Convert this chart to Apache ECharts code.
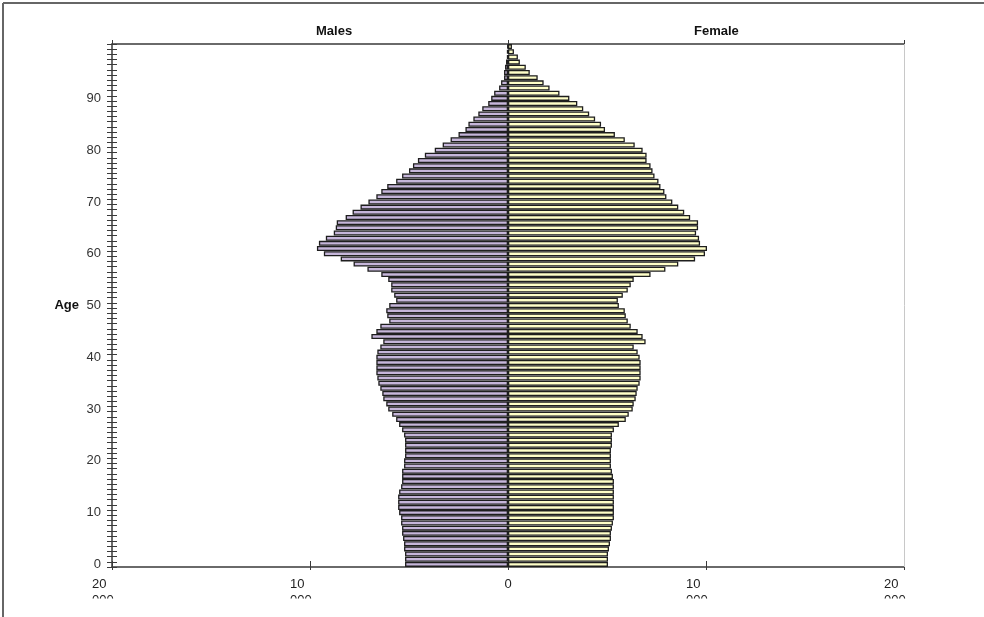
<!DOCTYPE html>
<html>
<head>
<meta charset="utf-8">
<script src="https://cdn.jsdelivr.net/npm/echarts@6/dist/echarts.min.js"></script>
<style>
html,body{margin:0;padding:0;background:#fff;}
#chart{width:984px;height:617px;}
</style>
</head>
<body>
<div id="chart"></div>
<script>
// Ages 0..100 (category axis, bottom to top)
const ages = Array.from({length: 101}, (_, i) => String(i));
const ageTickLabels = ['0','10','20','30','40','50','60','70','80','90'];
// Population in thousands, index = age
const males = [
  5.2,5.2,5.2,5.25,5.25,5.3,5.35,5.35,5.4,5.4,
  5.5,5.55,5.55,5.55,5.5,5.4,5.35,5.35,5.35,5.25,
  5.25,5.2,5.2,5.2,5.2,5.25,5.35,5.5,5.65,5.85,
  6.05,6.15,6.3,6.35,6.45,6.55,6.6,6.65,6.65,6.65,
  6.65,6.6,6.45,6.3,6.9,6.65,6.45,6.0,6.1,6.15,
  6.0,5.65,5.75,5.9,5.9,6.05,6.4,7.1,7.8,8.45,
  9.3,9.65,9.55,9.2,8.8,8.7,8.65,8.2,7.85,7.45,
  7.05,6.65,6.4,6.1,5.65,5.35,5.0,4.8,4.55,4.2,
  3.7,3.3,2.9,2.5,2.15,2.0,1.75,1.5,1.3,1.0,
  0.85,0.7,0.45,0.35,0.2,0.2,0.15,0.1,0.05,0.05,0.03
];
const females = [
  5.05,5.05,5.05,5.1,5.15,5.2,5.2,5.25,5.3,5.35,
  5.35,5.35,5.35,5.35,5.35,5.35,5.35,5.3,5.25,5.2,
  5.2,5.2,5.2,5.25,5.25,5.25,5.35,5.6,5.95,6.1,
  6.3,6.35,6.45,6.5,6.55,6.65,6.7,6.7,6.7,6.7,
  6.65,6.55,6.35,6.95,6.8,6.55,6.2,6.05,5.95,5.9,
  5.6,5.55,5.8,6.05,6.2,6.35,7.2,7.95,8.6,9.45,
  9.95,10.05,9.7,9.65,9.5,9.6,9.6,9.2,8.9,8.6,
  8.3,8.0,7.9,7.7,7.6,7.4,7.3,7.2,7.0,7.0,
  6.8,6.4,5.9,5.4,4.9,4.7,4.4,4.1,3.8,3.5,
  3.1,2.6,2.1,1.8,1.5,1.1,0.9,0.6,0.5,0.3,0.2
];
const xTickLabels = {'-20':'20 000','-10':'10 000','0':'0','10':'10 000','20':'20 000'};
const seriesNames = ['Males','Female'];

const chart = echarts.init(document.getElementById('chart'), null, {renderer:'canvas'});
const font = 'Arial, "Liberation Sans", Helvetica, sans-serif';
const axisColor = '#3a3a3a';

const option = {
  animation: false,
  backgroundColor: '#fff',
  grid: {left: 112, right: 80, top: 44, bottom: 50, containLabel: false},
  xAxis: [
    {
      type: 'value', position: 'bottom', min: -20, max: 20, interval: 10,
      axisLine: {show: true, onZero: false, lineStyle: {color: axisColor, width: 1.5}},
      axisTick: {show: true, inside: false, length: 3, lineStyle: {color: axisColor, width: 1}},
      splitLine: {show: false},
      axisLabel: {
        margin: 9, color: '#222', fontFamily: font, fontSize: 13,
        formatter: function (v) {
          const t = xTickLabels[String(v)];
          if (t === '0') return '{c|0}';
          const parts = t.split(' ');
          return '{l|' + parts[0] + '}\n{l|' + parts[1] + '}';
        },
        rich: {
          l: {width: 40, align: 'left', fontSize: 13, lineHeight: 16, fontFamily: font, color: '#222'},
          c: {align: 'center', fontSize: 13, lineHeight: 16, fontFamily: font, color: '#222'}
        }
      }
    },
    {
      type: 'value', position: 'bottom', min: -20, max: 20, interval: 10,
      axisLine: {show: false, onZero: false},
      axisTick: {show: true, inside: true, length: 6, lineStyle: {color: axisColor, width: 1}},
      axisLabel: {show: false}, splitLine: {show: false}
    },
    {
      type: 'value', position: 'top', min: -20, max: 20, interval: 20,
      axisLine: {show: true, onZero: false, lineStyle: {color: axisColor, width: 1.5}},
      axisTick: {show: true, inside: false, length: 4, lineStyle: {color: axisColor, width: 1}},
      axisLabel: {show: false}, splitLine: {show: false}
    }
  ],
  yAxis: [
    {
      type: 'category', position: 'left', data: ages, boundaryGap: true,
      axisLine: {show: true, onZero: false, lineStyle: {color: axisColor, width: 1.5}},
      axisTick: {show: true, inside: false, length: 5, interval: 0, lineStyle: {color: axisColor, width: 1}},
      axisLabel: {
        margin: 11, color: '#333', fontFamily: font, fontSize: 13,
        interval: function (idx, val) { return ageTickLabels.indexOf(val) >= 0; }
      },
      name: 'Age', nameLocation: 'middle', nameRotate: 0, nameGap: 33,
      nameTextStyle: {fontWeight: 'bold', fontSize: 13, fontFamily: font, color: '#111'},
      splitLine: {show: false}
    },
    {
      type: 'category', position: 'left', data: ages, boundaryGap: true, offset: 0,
      axisLine: {show: false, onZero: false},
      axisTick: {show: true, inside: true, length: 5, interval: 0, lineStyle: {color: axisColor, width: 1}},
      axisLabel: {show: false}, splitLine: {show: false}
    }
  ],
  series: [
    {
      name: seriesNames[0], type: 'bar', xAxisIndex: 0, yAxisIndex: 0,
      data: males.map(v => -v),
      barCategoryGap: '3%', barGap: '-100%',
      itemStyle: {color: '#C6B6DA', borderColor: '#1e1e1e', borderWidth: 1.3}
    },
    {
      name: seriesNames[1], type: 'bar', xAxisIndex: 0, yAxisIndex: 0,
      data: females,
      barCategoryGap: '3%', barGap: '-100%',
      itemStyle: {color: '#FFFFC8', borderColor: '#1e1e1e', borderWidth: 1.3}
    }
  ],
  graphic: [
    {type: 'text', left: 316, top: 25, style: {text: seriesNames[0], font: 'bold 13px ' + font, fill: '#111'}},
    {type: 'text', left: 694, top: 25, style: {text: seriesNames[1], font: 'bold 13px ' + font, fill: '#111'}},
    {type: 'rect', z: 100, shape: {x: 6, y: 598.5, width: 978, height: 19}, style: {fill: '#fff'}},
    {type: 'line', z: 101, shape: {x1: 3, y1: 3, x2: 984, y2: 3}, style: {stroke: '#666', lineWidth: 2}},
    {type: 'line', z: 101, shape: {x1: 3, y1: 3, x2: 3, y2: 617}, style: {stroke: '#666', lineWidth: 2}},
    {type: 'line', z: 5, shape: {x1: 904.5, y1: 44, x2: 904.5, y2: 567}, style: {stroke: '#c8c8c8', lineWidth: 1}}
  ]
};
chart.setOption(option);
</script>
</body>
</html>
